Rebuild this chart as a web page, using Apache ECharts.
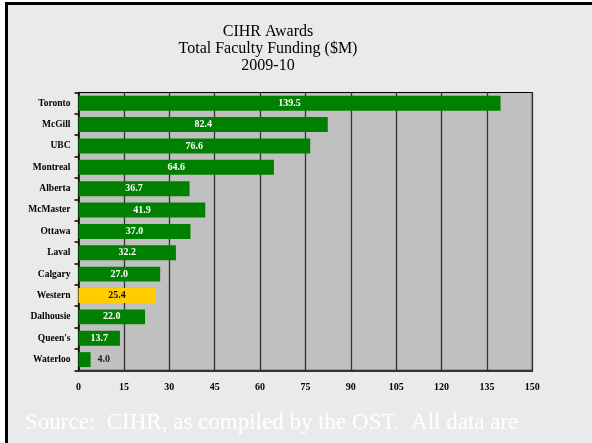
<!DOCTYPE html>
<html><head><meta charset="utf-8">
<script src="https://cdn.jsdelivr.net/npm/echarts@6/dist/echarts.min.js"></script>
<style>html,body{margin:0;padding:0;background:#EAEAEA;overflow:hidden}#c{width:592px;height:443px}</style>
</head><body><div id="c"></div>
<script>
const categories = ["Toronto","McGill","UBC","Montreal","Alberta","McMaster","Ottawa","Laval","Calgary","Western","Dalhousie","Queen's","Waterloo"];
const values = [139.5,82.4,76.6,64.6,36.7,41.9,37.0,32.2,27.0,25.4,22.0,13.7,4.0];
const highlight = "Western";
const outsideLabel = "Waterloo";
const titleLines = ["CIHR Awards","Total Faculty Funding ($M)","2009-10"];
const sourceText = "Source:  CIHR, as compiled by the OST.  All data are";
const xMin = 0, xMax = 150, xStep = 15;

const serif = "'Liberation Serif','Times New Roman',serif";
const chart = echarts.init(document.getElementById('c'), null, {renderer:'canvas'});
const data = values.map((v,i)=>{
  const c = categories[i];
  const item = {value:v, itemStyle:{color: c===highlight ? '#FFCC00' : '#008000'}};
  if (c===highlight) item.label = {color:'#111'};
  if (c===outsideLabel) item.label = {position:'right', distance:7, color:'#222'};
  return item;
});
chart.setOption({
  backgroundColor:'#fff',
  animation:false,
  graphic:[
    {type:'rect', z:-100, silent:true, shape:{x:5,y:2,width:600,height:500}, style:{fill:'#EAEAEA'}},
    {type:'line', z:-99, silent:true, shape:{x1:5,y1:3.5,x2:600,y2:3.5}, style:{stroke:'#000', lineWidth:3}},
    {type:'line', z:-99, silent:true, shape:{x1:6.5,y1:2,x2:6.5,y2:500}, style:{stroke:'#000', lineWidth:3}},
    {type:'text', z:10, silent:true, left:25, top:411, style:{text:sourceText, fill:'#fff', font:'23px '+serif}}
  ],
  title:{text:titleLines.join('\n'), left:263, top:18, textAlign:'center',
    textStyle:{fontFamily:serif, fontWeight:'normal', fontSize:16, lineHeight:17, color:'#000'}},
  grid:{left:78.5, right:59.7, top:92.5, bottom:72.7, show:true, backgroundColor:'#C0C0C0', borderColor:'#000', borderWidth:1},
  xAxis:{type:'value', min:xMin, max:xMax, interval:xStep,
    axisLine:{show:true, lineStyle:{color:'#333', width:2}},
    axisTick:{show:false},
    splitLine:{show:true, lineStyle:{color:'#333', width:1.3}},
    axisLabel:{margin:12, fontFamily:serif, fontWeight:'bold', fontSize:10, color:'#000'}},
  yAxis:{type:'category', data:categories, inverse:true,
    axisLine:{show:true, lineStyle:{color:'#000', width:1.5}},
    axisTick:{show:true, length:4, inside:false, lineStyle:{color:'#000', width:1.5}},
    axisLabel:{margin:8, fontFamily:serif, fontWeight:'bold', fontSize:9.5, color:'#000'}},
  series:[{type:'bar', data:data, barCategoryGap:'30%',
    label:{show:true, position:'inside', formatter:p=>p.value.toFixed(1),
      fontFamily:serif, fontWeight:'bold', fontSize:10, color:'#fff'}}]
});
</script></body></html>
